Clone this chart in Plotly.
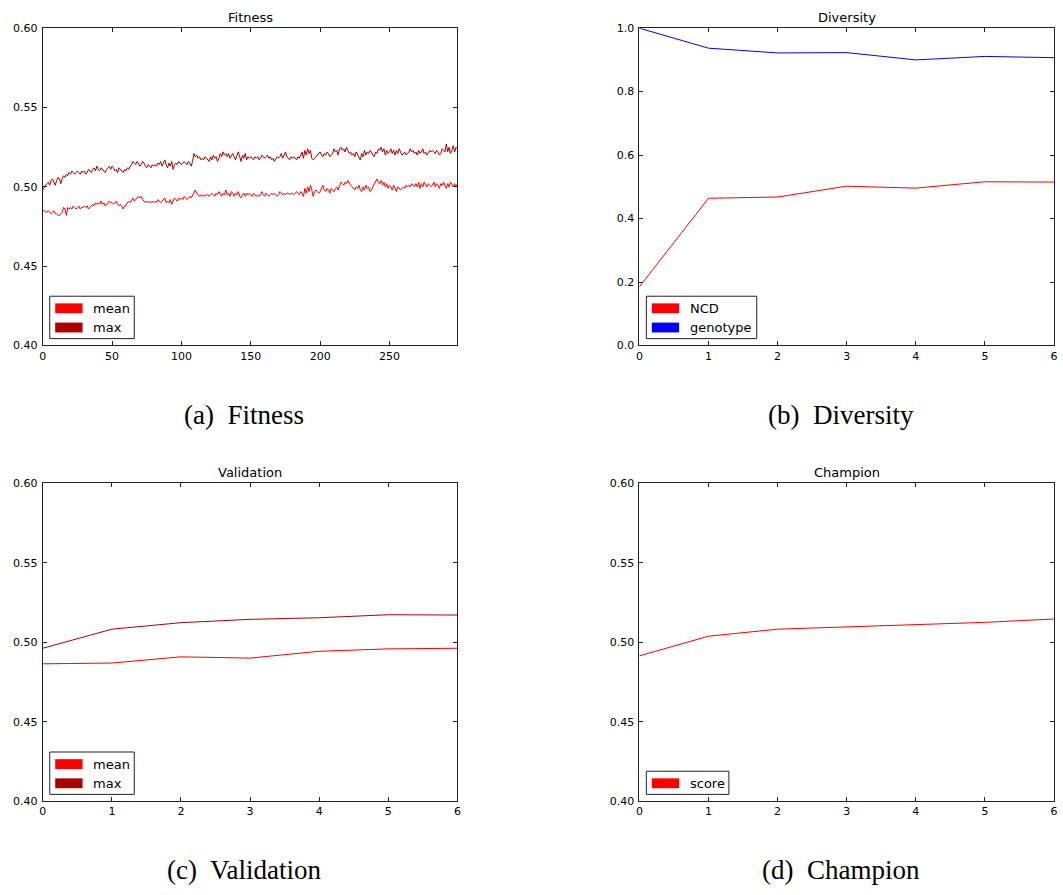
import plotly.graph_objects as go

# ---------------- data ----------------
generations = list(range(300))
fitness_max = [
    0.498, 0.500, 0.501, 0.502, 0.503, 0.501, 0.504, 0.505, 0.503, 0.501,
    0.504, 0.506, 0.505, 0.502, 0.505, 0.507, 0.506, 0.508, 0.507, 0.509,
    0.508, 0.510, 0.509, 0.508, 0.509, 0.510, 0.509, 0.508, 0.510, 0.509,
    0.510, 0.508, 0.509, 0.511, 0.510, 0.509, 0.511, 0.512, 0.510, 0.513,
    0.511, 0.510, 0.512, 0.511, 0.510, 0.509, 0.511, 0.512, 0.513, 0.511,
    0.513, 0.512, 0.510, 0.511, 0.509, 0.512, 0.511, 0.510, 0.509, 0.511,
    0.510, 0.512, 0.511, 0.513, 0.514, 0.516, 0.515, 0.514, 0.516, 0.515,
    0.513, 0.514, 0.516, 0.515, 0.513, 0.512, 0.514, 0.513, 0.512, 0.514,
    0.513, 0.514, 0.513, 0.515, 0.514, 0.516, 0.513, 0.515, 0.517, 0.514,
    0.512, 0.515, 0.513, 0.516, 0.511, 0.514, 0.515, 0.514, 0.516, 0.515,
    0.514, 0.515, 0.516, 0.515, 0.514, 0.516, 0.515, 0.513, 0.516, 0.521,
    0.519, 0.520, 0.518, 0.519, 0.517, 0.518, 0.517, 0.519, 0.518, 0.517,
    0.516, 0.519, 0.517, 0.520, 0.518, 0.519, 0.516, 0.518, 0.521, 0.519,
    0.522, 0.520, 0.521, 0.519, 0.521, 0.518, 0.520, 0.521, 0.519, 0.517,
    0.520, 0.522, 0.519, 0.516, 0.520, 0.518, 0.521, 0.517, 0.519, 0.518,
    0.519, 0.518, 0.517, 0.519, 0.518, 0.519, 0.517, 0.518, 0.520, 0.519,
    0.518, 0.519, 0.520, 0.518, 0.519, 0.517, 0.518, 0.516, 0.518, 0.519,
    0.518, 0.519, 0.521, 0.518, 0.520, 0.522, 0.519, 0.518, 0.517, 0.519,
    0.518, 0.519, 0.518, 0.517, 0.519, 0.518, 0.520, 0.522, 0.518, 0.523,
    0.520, 0.524, 0.521, 0.523, 0.518, 0.517, 0.518, 0.519, 0.520, 0.521,
    0.522, 0.520, 0.519, 0.521, 0.520, 0.522, 0.521, 0.519, 0.520, 0.521,
    0.524, 0.522, 0.523, 0.520, 0.524, 0.525, 0.523, 0.524, 0.522, 0.525,
    0.523, 0.521, 0.522, 0.520, 0.521, 0.519, 0.522, 0.520, 0.518, 0.517,
    0.521, 0.519, 0.523, 0.520, 0.522, 0.521, 0.523, 0.522, 0.520, 0.519,
    0.522, 0.521, 0.524, 0.523, 0.525, 0.522, 0.524, 0.520, 0.523, 0.521,
    0.522, 0.524, 0.521, 0.523, 0.520, 0.523, 0.521, 0.524, 0.522, 0.520,
    0.521, 0.522, 0.520, 0.521, 0.522, 0.524, 0.522, 0.523, 0.521, 0.522,
    0.520, 0.523, 0.521, 0.522, 0.524, 0.521, 0.522, 0.520, 0.522, 0.523,
    0.522, 0.523, 0.522, 0.521, 0.523, 0.522, 0.520, 0.521, 0.524, 0.523,
    0.522, 0.527, 0.522, 0.525, 0.521, 0.523, 0.526, 0.522, 0.525, 0.524,
]
fitness_mean = [
    0.485, 0.485, 0.484, 0.484, 0.485, 0.484, 0.483, 0.484, 0.485, 0.483,
    0.483, 0.482, 0.482, 0.483, 0.484, 0.487, 0.486, 0.482, 0.487, 0.486,
    0.487, 0.486, 0.488, 0.487, 0.486, 0.487, 0.488, 0.486, 0.487, 0.487,
    0.488, 0.487, 0.488, 0.486, 0.487, 0.488, 0.489, 0.488, 0.490, 0.489,
    0.490, 0.489, 0.491, 0.489, 0.490, 0.488, 0.489, 0.490, 0.491, 0.490,
    0.490, 0.489, 0.490, 0.491, 0.489, 0.488, 0.489, 0.487, 0.486, 0.488,
    0.488, 0.490, 0.491, 0.490, 0.492, 0.493, 0.491, 0.492, 0.493, 0.494,
    0.493, 0.494, 0.492, 0.491, 0.490, 0.491, 0.490, 0.491, 0.490, 0.491,
    0.490, 0.491, 0.490, 0.492, 0.491, 0.490, 0.491, 0.492, 0.493, 0.490,
    0.491, 0.490, 0.492, 0.489, 0.491, 0.493, 0.492, 0.491, 0.493, 0.492,
    0.493, 0.492, 0.494, 0.493, 0.492, 0.493, 0.494, 0.493, 0.495, 0.497,
    0.498, 0.496, 0.495, 0.494, 0.495, 0.494, 0.495, 0.494, 0.495, 0.495,
    0.494, 0.495, 0.496, 0.495, 0.494, 0.496, 0.495, 0.497, 0.495, 0.494,
    0.496, 0.495, 0.498, 0.495, 0.496, 0.494, 0.497, 0.496, 0.494, 0.496,
    0.495, 0.497, 0.494, 0.493, 0.495, 0.496, 0.494, 0.496, 0.495, 0.496,
    0.495, 0.494, 0.496, 0.495, 0.494, 0.495, 0.494, 0.495, 0.497, 0.495,
    0.494, 0.496, 0.495, 0.494, 0.495, 0.496, 0.495, 0.496, 0.495, 0.494,
    0.495, 0.497, 0.496, 0.495, 0.496, 0.495, 0.496, 0.496, 0.495, 0.496,
    0.496, 0.495, 0.496, 0.497, 0.496, 0.495, 0.497, 0.496, 0.494, 0.499,
    0.496, 0.500, 0.497, 0.501, 0.498, 0.494, 0.497, 0.498, 0.497, 0.496,
    0.497, 0.499, 0.501, 0.498, 0.497, 0.499, 0.498, 0.496, 0.499, 0.498,
    0.497, 0.499, 0.500, 0.498, 0.501, 0.503, 0.502, 0.501, 0.503, 0.502,
    0.504, 0.502, 0.501, 0.500, 0.499, 0.498, 0.500, 0.499, 0.501, 0.498,
    0.497, 0.500, 0.498, 0.501, 0.499, 0.500, 0.497, 0.498, 0.500, 0.502,
    0.503, 0.505, 0.503, 0.502, 0.504, 0.501, 0.503, 0.500, 0.502, 0.499,
    0.501, 0.500, 0.498, 0.501, 0.499, 0.497, 0.500, 0.499, 0.498, 0.499,
    0.500, 0.499, 0.501, 0.500, 0.501, 0.500, 0.502, 0.501, 0.500, 0.502,
    0.500, 0.503, 0.499, 0.502, 0.500, 0.503, 0.501, 0.500, 0.502, 0.501,
    0.500, 0.501, 0.503, 0.500, 0.502, 0.501, 0.499, 0.502, 0.501, 0.503,
    0.501, 0.499, 0.502, 0.500, 0.503, 0.501, 0.500, 0.502, 0.500, 0.502,
]

epochs = [0, 1, 2, 3, 4, 5, 6]
diversity_ncd = [0.185, 0.464, 0.468, 0.502, 0.496, 0.516, 0.515]
diversity_genotype = [1.000, 0.937, 0.922, 0.923, 0.900, 0.911, 0.907]
validation_mean = [0.4865, 0.4870, 0.4909, 0.4901, 0.4944, 0.4959, 0.4963]
validation_max = [0.4963, 0.5083, 0.5124, 0.5145, 0.5155, 0.5174, 0.5172]
champion_score = [0.4915, 0.5039, 0.5083, 0.5097, 0.5114, 0.5126, 0.5147]

panel_titles = ["Fitness", "Diversity", "Validation", "Champion"]
captions = ["(a)  Fitness", "(b)  Diversity", "(c)  Validation", "(d)  Champion"]

# ---------------- styling ----------------
W, H = 1063, 895
RED = "#ff0000"
DARKRED = "#aa0000"
BLUE = "#0000ff"
SANS = "DejaVu Sans"
SERIF = "Liberation Serif"

def px_x(p):
    return p / W

def px_y(p):
    return 1 - p / H

# panel boxes in pixels: (left, right, top, bottom)
boxes = [
    (40, 457, 22.5, 344.5),
    (640, 1057, 22.5, 344.5),
    (40, 457, 484.5, 807),
    (640, 1057, 484.5, 807),
]

fig = go.Figure()

def axis_common():
    return dict(
        showline=True, linecolor="#222222", linewidth=1, mirror="allticks",
        ticks="inside", ticklen=4, tickcolor="#222222", tickwidth=1,
        showgrid=False, zeroline=False,
        tickfont=dict(family=SANS, size=11, color="#000000"),
    )

layout_axes = {}
for i, (l, r, t, b) in enumerate(boxes):
    n = "" if i == 0 else str(i + 1)
    xa = axis_common()
    ya = axis_common()
    xa.update(domain=[px_x(l), px_x(r)], anchor="y" + n)
    ya.update(domain=[px_y(b), px_y(t)], anchor="x" + n, ticklabelstandoff=2)
    if i == 0:
        xa.update(range=[0, 299], tickvals=[0, 50, 100, 150, 200, 250])
    else:
        xa.update(range=[0, 6], tickvals=epochs)
    if i == 1:
        ya.update(range=[0, 1], tickvals=[0, 0.2, 0.4, 0.6, 0.8, 1.0], tickformat=".1f")
    else:
        ya.update(range=[0.40, 0.60], tickvals=[0.40, 0.45, 0.50, 0.55, 0.60], tickformat=".2f")
    layout_axes["xaxis" + n] = xa
    layout_axes["yaxis" + n] = ya

def add_line(x, y, color, idx):
    n = "" if idx == 0 else str(idx + 1)
    fig.add_trace(go.Scatter(
        x=x, y=y, mode="lines", line=dict(color=color, width=1),
        xaxis="x" + n, yaxis="y" + n, showlegend=False, hoverinfo="skip",
    ))

add_line(generations, fitness_mean, RED, 0)
add_line(generations, fitness_max, DARKRED, 0)
add_line(epochs, diversity_ncd, RED, 1)
add_line(epochs, diversity_genotype, BLUE, 1)
add_line(epochs, validation_mean, RED, 2)
add_line(epochs, validation_max, DARKRED, 2)
add_line(epochs, champion_score, RED, 3)

shapes = []
annotations = []

# manual matplotlib-style legends (patch + label) in pixel coordinates
def legend(idx, entries, box_right):
    l, r, t, b = boxes[idx]
    n = len(entries)
    bottom = b - 7
    row_h = 19.5
    top = bottom - (n * row_h + 4)
    shapes.append(dict(type="rect", xref="paper", yref="paper",
                       x0=px_x(l + 7), x1=px_x(l + box_right), y0=px_y(bottom), y1=px_y(top),
                       line=dict(color="#222222", width=1), fillcolor="white", layer="above"))
    for k, (label, color) in enumerate(entries):
        cy = top + 2 + row_h * k + row_h / 2 + 0.5
        shapes.append(dict(type="rect", xref="paper", yref="paper",
                           x0=px_x(l + 12.5), x1=px_x(l + 40), y0=px_y(cy + 5), y1=px_y(cy - 5),
                           line=dict(width=0), fillcolor=color, layer="above"))
        annotations.append(dict(text=label, xref="paper", yref="paper",
                                x=px_x(l + 49), y=px_y(cy), xanchor="left", yanchor="middle",
                                showarrow=False, font=dict(family=SANS, size=13, color="#000000")))

legend(0, [("mean", RED), ("max", DARKRED)], 92)
legend(1, [("NCD", RED), ("genotype", BLUE)], 118)
legend(2, [("mean", RED), ("max", DARKRED)], 92)
legend(3, [("score", RED)], 90)

# panel titles and captions
caption_y = [415, 415, 877, 877]
for i, (l, r, t, b) in enumerate(boxes):
    annotations.append(dict(text=panel_titles[i], xref="paper", yref="paper",
                            x=px_x((l + r) / 2), y=px_y(t - 1), xanchor="center", yanchor="bottom",
                            showarrow=False, font=dict(family=SANS, size=13, color="#000000")))
    annotations.append(dict(text=captions[i], xref="paper", yref="paper",
                            x=px_x((l + r) / 2 - 6), y=px_y(caption_y[i]), xanchor="center",
                            yanchor="middle", showarrow=False,
                            font=dict(family=SERIF, size=27, color="#000000")))

fig.update_layout(
    width=W, height=H, margin=dict(l=0, r=0, t=0, b=0),
    paper_bgcolor="white", plot_bgcolor="white",
    showlegend=False, shapes=shapes, annotations=annotations,
    **layout_axes,
)

fig.write_html(
    "out.html",
    config={"displayModeBar": False},
    post_script="document.body.style.margin='0px';document.body.style.overflow='hidden';",
)
